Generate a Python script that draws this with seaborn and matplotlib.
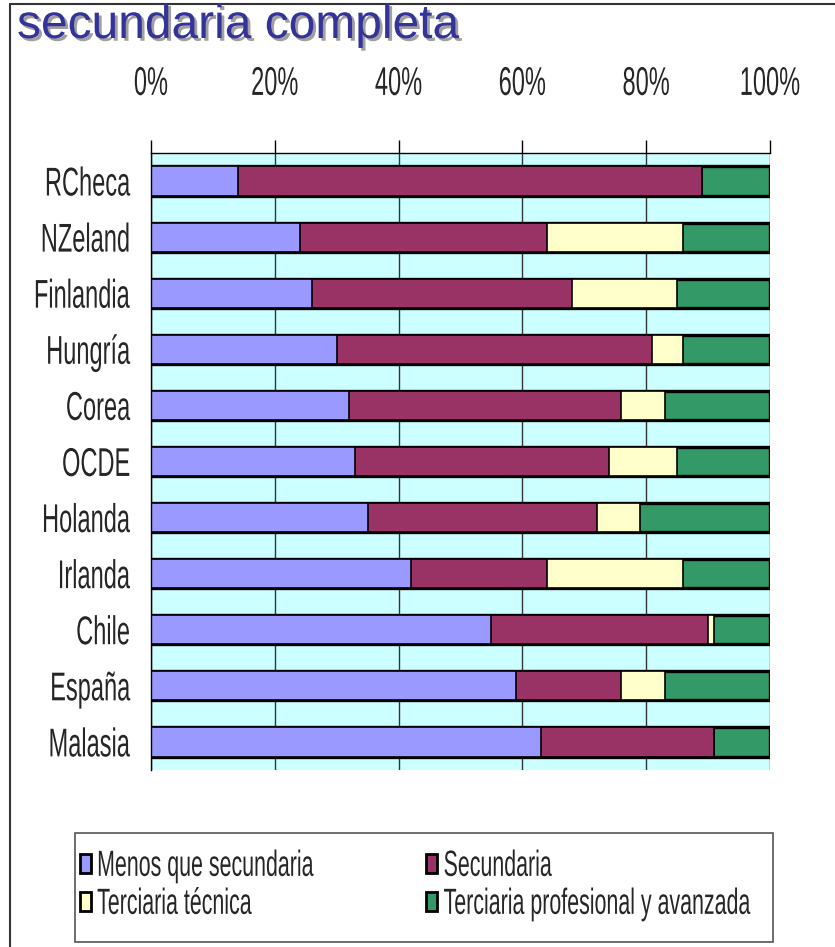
import numpy as np
import matplotlib
matplotlib.use("Agg")
import matplotlib.pyplot as plt
import matplotlib.patheffects as pe
from matplotlib.patches import Patch, Rectangle
from matplotlib.lines import Line2D
from matplotlib.transforms import Affine2D
import seaborn as sns

# -----------------------------
# Data (shares of adult population, %)
# -----------------------------
countries = ["RCheca", "NZeland", "Finlandia", "Hungría", "Corea", "OCDE",
             "Holanda", "Irlanda", "Chile", "España", "Malasia"]
menos_secundaria = [14, 24, 26, 30, 32, 33, 35, 42, 55, 59, 63]
secundaria = [75, 40, 42, 51, 44, 41, 37, 22, 35, 17, 28]
terciaria_tecnica = [0, 22, 17, 5, 7, 11, 7, 22, 1, 7, 0]
terciaria_prof = [11, 14, 15, 14, 17, 15, 21, 14, 9, 17, 9]

series_names = ["Menos que secundaria", "Secundaria", "Terciaria técnica",
                "Terciaria profesional y avanzada"]
series_colors = ["#9999FF", "#993366", "#FFFFCC", "#339966"]
x_ticks = [0, 20, 40, 60, 80, 100]
x_tick_labels = ["0%", "20%", "40%", "60%", "80%", "100%"]


class TallText(pe.AbstractPathEffect):
    """Stretch glyphs vertically (narrow look) around the middle of the caps."""
    def __init__(self, sy=1.7, mid=36):
        super().__init__()
        self.sy = sy
        self.mid = mid

    def draw_path(self, renderer, gc, tpath, affine, rgbFace=None):
        stretch = Affine2D().translate(0, -self.mid).scale(1, self.sy).translate(0, self.mid)
        renderer.draw_path(gc, tpath, stretch + affine, rgbFace)


sns.set_style("white")
plt.rcParams["font.family"] = ["Liberation Sans", "DejaVu Sans"]

W, H = 835, 947
fig = plt.figure(figsize=(W / 100, H / 100), dpi=100)
ax = fig.add_axes([151 / W, 1 - 770 / H, (770 - 151) / W, (770 - 153) / H])
ax.set_facecolor("#CCFFFF")

# cumulative totals, drawn from the longest down so each segment shows
stack = np.array([menos_secundaria, secundaria, terciaria_tecnica, terciaria_prof], dtype=float)
cum = np.cumsum(stack, axis=0)
for i in range(3, -1, -1):
    sns.barplot(x=cum[i], y=countries, color=series_colors[i], orient="h",
                width=0.52, edgecolor="black", linewidth=2.4 if i == 3 else 1.2,
                errorbar=None, saturation=1, ax=ax)

ax.set_xlim(0, 100)
ax.set_ylim(len(countries) - 0.5, -0.5)
ax.set_xlabel("")
ax.set_ylabel("")

# x axis on top
ax.xaxis.tick_top()
ax.set_xticks(x_ticks)
ax.set_xticklabels(x_tick_labels, fontsize=17)
ax.tick_params(axis="x", length=9.5, width=1, color="black", pad=33, direction="out")
ax.xaxis.grid(True, color="#333333", linewidth=1)
ax.set_axisbelow(True)

# y axis: labels at categories, ticks at boundaries
ax.tick_params(axis="y", which="major", length=0, pad=15, labelsize=17)
ax.set_yticks(np.arange(-0.5, len(countries), 1), minor=True)
ax.tick_params(axis="y", which="minor", length=6, width=1.2, color="#555555", direction="out")

for s in ["right", "bottom"]:
    ax.spines[s].set_visible(False)
ax.spines["left"].set_color("black")
ax.spines["left"].set_linewidth(1)
ax.spines["top"].set_color("black")
ax.spines["top"].set_linewidth(1)

for lbl in ax.get_xticklabels() + ax.get_yticklabels():
    lbl.set_path_effects([TallText()])

# title with shadow
fig.text(17 / W, 1 - 38 / H, "secundaria completa", fontsize=34.5, color="#333399",
         va="baseline", ha="left",
         path_effects=[pe.withSimplePatchShadow(offset=(2, -2), shadow_rgbFace="#888888", alpha=0.8)])

# outer frame (left and top edges)
fig.add_artist(Line2D([10 / W, 10 / W], [0, 1 - 4 / H], transform=fig.transFigure, color="#333333", lw=1.5))
fig.add_artist(Line2D([10 / W, 1], [1 - 4 / H, 1 - 4 / H], transform=fig.transFigure, color="#333333", lw=1.5))

# legend
fig.add_artist(Rectangle((75 / W, 1 - 942 / H), 698 / W, 109 / H, transform=fig.transFigure,
                         fill=False, edgecolor="#555555", lw=1.2))
order = [0, 2, 1, 3]
handles = [Patch(facecolor=series_colors[k], edgecolor="black", linewidth=2) for k in order]
labels = [series_names[k] for k in order]
leg = fig.legend(handles, labels, ncol=2, loc="center left",
                 bbox_to_anchor=(80 / W, 1 - 883 / H),
                 fontsize=15.4, frameon=False,
                 handlelength=0.5, handleheight=1.0, handletextpad=0.3,
                 labelspacing=0.8, columnspacing=5.3, borderpad=0, borderaxespad=0)
for t in leg.get_texts():
    t.set_path_effects([TallText()])

fig.savefig("out.png", dpi=100)
